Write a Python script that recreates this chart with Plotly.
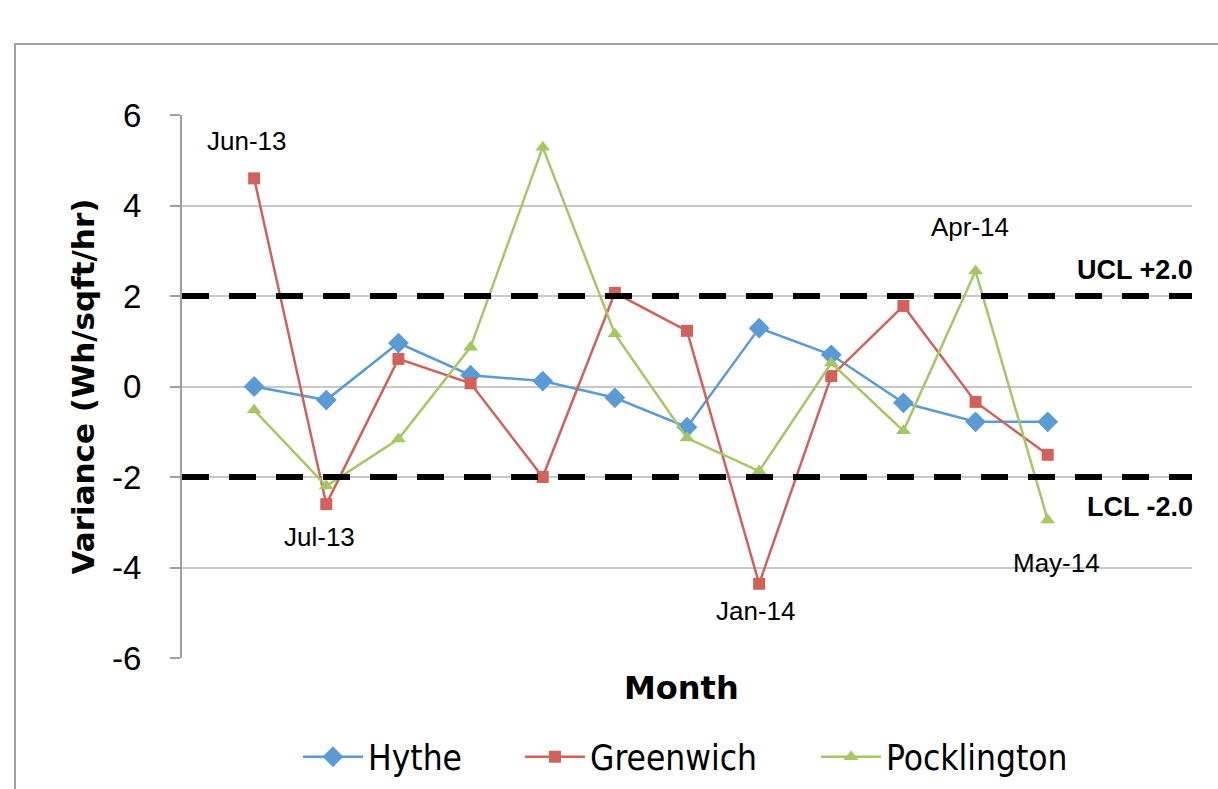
import plotly.graph_objects as go

# Monthly energy-use variance by site
months = ["Jun-13", "Jul-13", "Aug-13", "Sep-13", "Oct-13", "Nov-13",
          "Dec-13", "Jan-14", "Feb-14", "Mar-14", "Apr-14", "May-14"]
hythe = [0.0, -0.3, 0.96, 0.25, 0.12, -0.25, -0.9, 1.29, 0.7, -0.36, -0.78, -0.78]
greenwich = [4.6, -2.6, 0.61, 0.07, -2.0, 2.07, 1.23, -4.36, 0.23, 1.78, -0.34, -1.51]
pocklington = [-0.52, -2.2, -1.16, 0.87, 5.29, 1.16, -1.14, -1.87, 0.52, -0.98, 2.55, -2.95]

ucl = 2.0
lcl = -2.0

# Months called out on the chart, with label offsets (x in category steps, y in data units)
callouts = [("Jun-13", -0.1, 5.43), ("Jul-13", 0.9, -3.33), ("Oct-13", 3.95, 6.18),
            ("Jan-14", 6.96, -4.96), ("Apr-14", 9.92, 3.52), ("May-14", 11.12, -3.9)]

x = list(range(len(months)))

fig = go.Figure()

fig.add_trace(go.Scatter(
    x=x, y=hythe, name="Hythe", mode="lines+markers", legend="legend",
    line=dict(color="#5B9BD5", width=2.5),
    marker=dict(symbol="diamond", size=16, color="#5B9BD5"),
))
fig.add_trace(go.Scatter(
    x=x, y=greenwich, name="Greenwich", mode="lines+markers", legend="legend2",
    line=dict(color="#D0625B", width=2.5),
    marker=dict(symbol="square", size=12, color="#D0625B"),
))
fig.add_trace(go.Scatter(
    x=x, y=pocklington, name="Pocklington", mode="lines+markers", legend="legend3",
    line=dict(color="#A5C864", width=2.5),
    marker=dict(symbol="triangle-up", size=13, color="#A5C864"),
))

# Control limits
for lim in (ucl, lcl):
    fig.add_shape(type="line", xref="paper", x0=0, x1=1, yref="y", y0=lim, y1=lim,
                  line=dict(color="black", width=6, dash="27px,20px"), layer="above")

fig.add_annotation(x=1.003, xref="paper", y=2.57, yref="y", text="<b>UCL +2.0</b>",
                   showarrow=False, xanchor="right",
                   font=dict(family="Liberation Sans", size=27, color="black"))
fig.add_annotation(x=1.003, xref="paper", y=-2.66, yref="y", text="<b>LCL -2.0</b>",
                   showarrow=False, xanchor="right",
                   font=dict(family="Liberation Sans", size=27, color="black"))

for label, cx, cy in callouts:
    fig.add_annotation(x=cx, y=cy, text=label, showarrow=False,
                       font=dict(family="Liberation Sans", size=26, color="black"))

# Axis titles
fig.add_annotation(x=(681 - 182) / 1010, xref="paper", y=-30 / 543, yref="paper",
                   text="<b>Month</b>", showarrow=False, yanchor="middle",
                   font=dict(family="DejaVu Sans", size=32, color="black"))
fig.add_annotation(x=(82 - 182) / 1010, xref="paper", y=0.5, yref="paper",
                   text="<b>Variance (Wh/sqft/hr)</b>", showarrow=False, textangle=-90,
                   xanchor="center", yanchor="middle",
                   font=dict(family="DejaVu Sans", size=31, color="black"))

# Outer chart frame
fig.add_shape(type="rect", xref="paper", yref="paper",
              x0=(15 - 182) / 1010, x1=1.2, y0=-0.5, y1=(658 - 44) / 543,
              line=dict(color="#A0A0A0", width=2), fillcolor="rgba(0,0,0,0)",
              layer="below")

legend_font = dict(family="DejaVu Sans Condensed, DejaVu Sans", size=35, color="black")
legend_y = 1 - 757 / 789


def legend_at(px):
    return dict(orientation="h", xref="container", yref="container",
                x=px / 1218, xanchor="left", y=legend_y, yanchor="middle",
                font=legend_font, itemwidth=60, bgcolor="rgba(0,0,0,0)")


fig.update_layout(
    width=1218, height=789,
    margin=dict(l=182, r=26, t=115, b=131, autoexpand=False),
    paper_bgcolor="white", plot_bgcolor="white",
    showlegend=True,
    legend=legend_at(298),
    legend2=legend_at(520),
    legend3=legend_at(816),
    xaxis=dict(
        range=[-1, 13], showticklabels=False, showgrid=False, zeroline=False,
        showline=False, ticks="", automargin=False,
    ),
    yaxis=dict(
        range=[-6, 6], tickvals=[-6, -4, -2, 0, 2, 4, 6],
        ticktext=["-6", "-4", "-2", "0", "2", "4", "6"],
        showgrid=True, gridcolor="#C8C8C8", gridwidth=2, zeroline=False,
        showline=True, linecolor="#A0A0A0", linewidth=2,
        ticks="outside", ticklen=10, tickcolor="#A0A0A0", tickwidth=2,
        ticklabelstandoff=22, automargin=False,
        tickfont=dict(family="Liberation Sans", size=33, color="black"),
    ),
)

fig.write_html("out.html")
